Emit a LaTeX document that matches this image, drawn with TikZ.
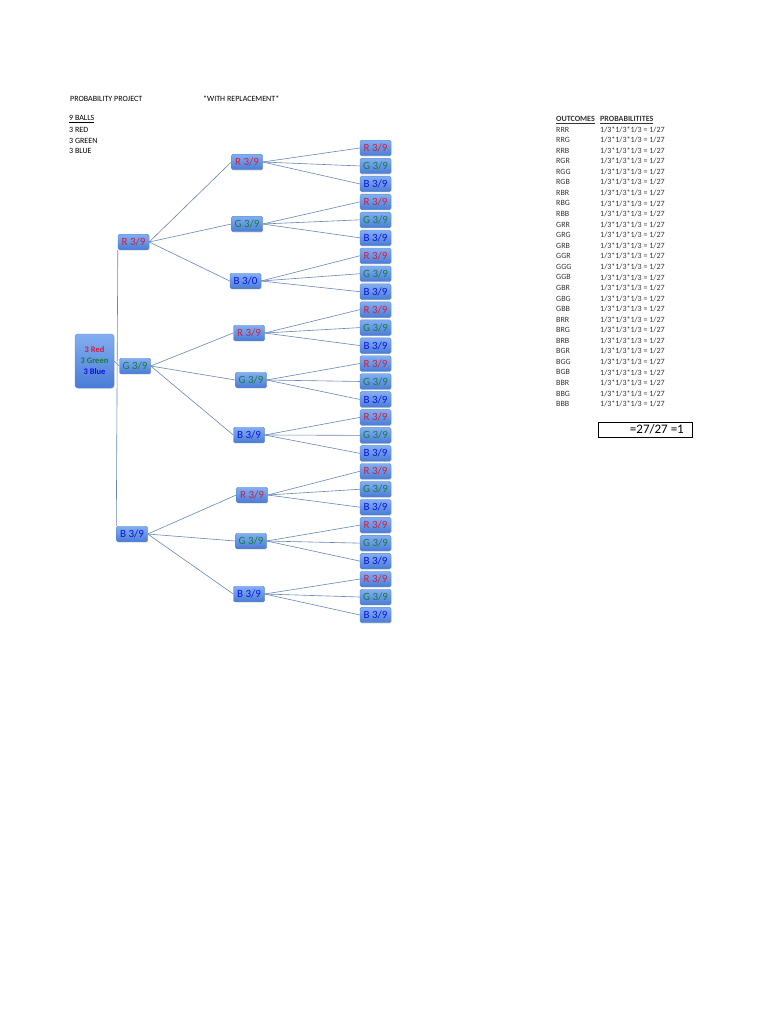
\documentclass[tikz,border=0pt]{standalone}
\usepackage{fontspec}
\setmainfont{Carlito}
\usetikzlibrary{shadows}
\definecolor{rtxt}{RGB}{214,28,60}
\definecolor{gtxt}{RGB}{22,125,58}
\definecolor{btxt}{RGB}{15,15,230}
\definecolor{boxtop}{RGB}{130,175,242}
\definecolor{boxbot}{RGB}{74,124,214}
\definecolor{boxline}{RGB}{90,135,205}
\definecolor{conncol}{RGB}{105,135,180}
\begin{document}
\begin{tikzpicture}[x=1pt,y=-1pt,
  box/.style={rounded corners=1.5pt, minimum width=31pt, minimum height=15.5pt, inner sep=0pt,
    top color=boxtop, bottom color=boxbot, draw=boxline, line width=0.4pt,
    font=\fontsize{11}{12}\selectfont,
    drop shadow={shadow xshift=0.6pt, shadow yshift=-0.8pt, opacity=0.25}},
  rootbox/.style={box, rounded corners=3pt, minimum width=39pt, minimum height=54pt, align=center,
    font=\fontsize{8.5}{11}\selectfont\bfseries},
  conn/.style={draw=conncol, line width=0.6pt},
  small/.style={anchor=west, inner sep=0pt, font=\fontsize{8}{9}\selectfont},
  tab/.style={anchor=west, inner sep=0pt, font=\fontsize{8}{9}\selectfont, text=black!80}]
\useasboundingbox (0,0) rectangle (768,1024);
\fill[white] (0,0) rectangle (768,1024);

% header texts
\node[small] (title) at (70,99) {PROBABILITY PROJECT};
\node[small] (repl) at (203,99) {*WITH REPLACEMENT*};
\node[small] (balls) at (69,119) {\underline{9 BALLS}};
\node[small] (red) at (69,130) {3 RED};
\node[small] (green) at (69,141) {3 GREEN};
\node[small] (blue) at (69,151) {3 BLUE};

% root
\node[rootbox] (root) at (94.5,361) {\textcolor{rtxt}{3 Red}\\\textcolor{gtxt}{3 Green}\\\textcolor{btxt}{3 Blue}};

% level 1
\node[box, text=rtxt] (T0) at (133.5,242) {R 3/9};
\node[box, text=gtxt] (T1) at (135,366) {G 3/9};
\node[box, text=btxt] (T2) at (132,534) {B 3/9};

% level 2
\foreach \k/\x/\y/\l/\c/\d in {0/247/162/R/rtxt/9, 1/247/224/G/gtxt/9, 2/245.5/281/B/btxt/0,
  3/249/333/R/rtxt/9, 4/251/380/G/gtxt/9, 5/249/435/B/btxt/9,
  6/252/495/R/rtxt/9, 7/251/541/G/gtxt/9, 8/249/594/B/btxt/9}
  \node[box, text=\c] (M\k) at (\x,\y) {\l\ 3/\d};

% level 3
\foreach \i in {0,...,26} {
  \pgfmathtruncatemacro\c{mod(\i,3)}
  \ifcase\c \def\lab{R}\def\col{rtxt}\or \def\lab{G}\def\col{gtxt}\or \def\lab{B}\def\col{btxt}\fi
  \node[box, text=\col] (L\i) at (375.5,148+17.96*\i) {\lab\ 3/9};
}

% connectors
\draw[conn] (T0.south west) -- (T2.north west);
\draw[conn] (root.east) -- (T1.west);
\foreach \j in {0,1,2} {
  \foreach \s in {0,1,2} {
    \pgfmathtruncatemacro\m{3*\j+\s}
    \draw[conn] (T\j.east) -- (M\m.west);
  }
}
\foreach \k in {0,...,8} {
  \foreach \s in {0,1,2} {
    \pgfmathtruncatemacro\m{3*\k+\s}
    \draw[conn] (M\k.east) -- (L\m.west);
  }
}

% table
\node[tab] (outh) at (556,120) {\underline{\textbf{OUTCOMES}}};
\node[tab] (probh) at (600,120) {\underline{\textbf{PROBABILITITES}}};
\foreach \o [count=\n from 0] in {RRR,RRG,RRB,RGR,RGG,RGB,RBR,RBG,RBB,GRR,GRG,GRB,GGR,GGG,GGB,GBR,GBG,GBB,BRR,BRG,BRB,BGR,BGG,BGB,BBR,BBG,BBB} {
  \node[tab] (o\n) at (556,129.5+10.56*\n) {\o};
  \node[tab] (p\n) at (600,129.5+10.56*\n) {1/3*1/3*1/3 = 1/27};
}

% total box
\node[draw=black, line width=0.8pt, minimum width=94pt, minimum height=15pt, inner sep=0pt,
  anchor=north west] (total) at (598,422) {};
\node[anchor=east, inner sep=0pt, font=\fontsize{13}{15}\selectfont] (totaltxt) at (684,429.5) {=27/27 =1};
\end{tikzpicture}
\end{document}
